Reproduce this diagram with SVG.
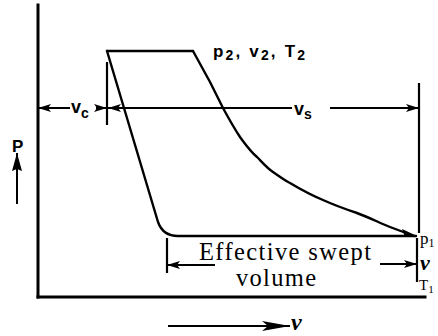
<svg xmlns="http://www.w3.org/2000/svg" width="438" height="336" viewBox="0 0 438 336">
<style>
.ax{stroke:#000;stroke-width:3;fill:none;stroke-linecap:square}
.cy{stroke:#000;stroke-width:2.4;fill:none;stroke-linejoin:round;stroke-linecap:round}
.dm{stroke:#000;stroke-width:2;fill:none}
.bar{stroke:#000;stroke-width:2.2;fill:none}
.lab{font-family:"Liberation Sans",Arial,sans-serif;font-weight:bold;fill:#000}
.ser{font-family:"Liberation Serif","Times New Roman",serif;fill:#000}
.it{font-family:"Liberation Serif","Times New Roman",serif;font-style:italic;font-weight:bold;fill:#000}
</style>
<defs>
<marker id="arr" markerUnits="userSpaceOnUse" markerWidth="14" markerHeight="10" refX="13" refY="4" orient="auto-start-reverse">
<path d="M0,0 L13,4 L0,8 L3,4 Z" fill="#000"/>
</marker>
<marker id="arrB" markerUnits="userSpaceOnUse" markerWidth="30" markerHeight="12" refX="28" refY="5" orient="auto">
<path d="M0,0 L28,5 L0,10 L6,5 Z" fill="#000"/>
</marker>
<marker id="arrP" markerUnits="userSpaceOnUse" markerWidth="20" markerHeight="12" refX="18" refY="5" orient="auto">
<path d="M0,0 L18,5 L0,10 L2,5 Z" fill="#000"/>
</marker>
</defs>
<g id="axes">
<line class="ax" x1="38" y1="5" x2="38" y2="297"/>
<line class="ax" x1="38" y1="297" x2="425" y2="297"/>
</g>
<g id="cycle">
<polyline class="cy" points="107,51 193,51"/>
<path class="cy" d="M107,51 L158,222 Q163,236 178,236 L416,236"/>
<path class="cy" d="M193,51 L210,82 L223,108 C229,119 234,128 240,137 C246,145 250,151 257,157 C262,162 267,168 273,172 C279,176 284,180 290,183 C300,189 311,195 323,200 C334,205 345,209 357,213 C368,217 380,223 390,227 C398,230 406,233 414,236"/>
<path d="M402,229 L417,236 L405,237 Z" fill="#000"/>
</g>
<g id="connectors">
<line class="bar" x1="107" y1="62" x2="107" y2="125"/>
<line class="bar" x1="419" y1="83" x2="419" y2="233"/>
<line class="bar" x1="417" y1="238" x2="417" y2="282"/>
<line class="bar" x1="167" y1="238" x2="167" y2="273"/>
<line class="dm" x1="38" y1="108" x2="70" y2="108" marker-start="url(#arr)"/>
<line class="dm" x1="96" y1="108" x2="107" y2="108" marker-end="url(#arr)"/>
<line class="dm" x1="108" y1="108" x2="292" y2="108" marker-start="url(#arr)"/>
<line class="dm" x1="330" y1="108" x2="419" y2="108" marker-end="url(#arr)"/>
<line class="dm" x1="167" y1="265" x2="215" y2="265" marker-start="url(#arr)"/>
<line class="dm" x1="380" y1="264" x2="417" y2="264" marker-end="url(#arr)"/>
<line class="dm" x1="168" y1="326" x2="290" y2="326" marker-end="url(#arrB)"/>
<line class="dm" x1="17" y1="204" x2="17" y2="153" marker-end="url(#arrP)"/>
</g>
<g id="labels">
<text class="lab" x="213" y="57" font-size="17" textLength="92" lengthAdjust="spacing">p<tspan font-size="14" dy="3">2</tspan><tspan dy="-3">, v</tspan><tspan font-size="14" dy="3">2</tspan><tspan dy="-3">,  T</tspan><tspan font-size="14" dy="3">2</tspan></text>
<text class="lab" x="71" y="113" font-size="18">v<tspan font-size="14" dy="5">c</tspan></text>
<text class="lab" x="294" y="115" font-size="18">v<tspan font-size="14" dy="4">s</tspan></text>
<text class="lab" x="12" y="152" font-size="17">P</text>
<text class="ser" x="199" y="260" font-size="24.5" textLength="172" lengthAdjust="spacing">Effective swept</text>
<text class="ser" x="236" y="286" font-size="24.5" textLength="80" lengthAdjust="spacing">volume</text>
<text class="ser" x="420" y="244" font-size="17">p<tspan font-size="12" dy="3">1</tspan></text>
<text class="it" x="420" y="270" font-size="22">v</text>
<text class="ser" x="419" y="290" font-size="15">T<tspan font-size="11" dy="3">1</tspan></text>
<text class="it" x="291" y="330" font-size="24">v</text>
</g>
</svg>
